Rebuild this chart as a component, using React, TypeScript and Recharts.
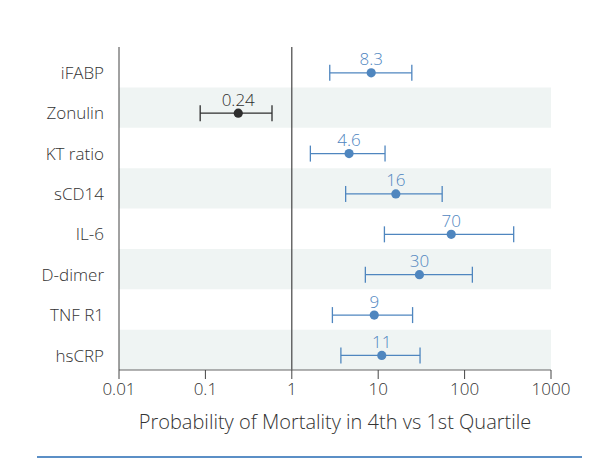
import React from 'react';
import {
  ScatterChart,
  Scatter,
  XAxis,
  YAxis,
  ErrorBar,
  LabelList,
  ReferenceArea,
  ReferenceLine,
} from 'recharts';

const categories = ['iFABP', 'Zonulin', 'KT ratio', 'sCD14', 'IL-6', 'D-dimer', 'TNF R1', 'hsCRP'];
const estimates = [8.3, 0.24, 4.6, 16, 70, 30, 9, 11];
const lowerCI = [2.75, 0.087, 1.64, 4.2, 11.8, 7.1, 2.95, 3.7];
const upperCI = [24.5, 0.59, 12, 55, 370, 123, 25, 30.5];
const darkRows = ['Zonulin'];
const xTicks = [0.01, 0.1, 1, 10, 100, 1000];
const bandRows = [1, 3, 5, 7];

const BLUE = '#4f86bf';
const DARK = '#2e2e2e';
const BAND = '#eff4f3';
const TEXT = '#333333';
const FONT = '"Open Sans", "Noto Sans", sans-serif';
const WEIGHT = 350;
const ROW_OFFSET = 0.64;

const rows = categories.map((name, i) => ({
  name,
  pos: i + ROW_OFFSET,
  value: estimates[i],
  err: [estimates[i] - lowerCI[i], upperCI[i] - estimates[i]],
}));
const blueData = rows.filter((r) => !darkRows.includes(r.name));
const darkData = rows.filter((r) => darkRows.includes(r.name));
const yTicks = rows.map((r) => r.pos);

const dotShape = (color: string) => (props: any) => (
  <circle cx={props.cx} cy={props.cy} r={4.6} fill={color} />
);

export default function App() {
  return (
    <div style={{ position: 'absolute', left: 0, top: 0, width: 600, height: 466, background: '#fff' }}>
      <ScatterChart
        width={600}
        height={466}
        margin={{ top: 47, right: 49, bottom: 36, left: 0 }}
        style={{ fontFamily: FONT, fontWeight: WEIGHT }}
      >
        {bandRows.map((i) => (
          <ReferenceArea
            key={i}
            x1={0.01}
            x2={1000}
            y1={i}
            y2={i + 1}
            fill={BAND}
            fillOpacity={1}
            stroke="none"
            ifOverflow="visible"
          />
        ))}
        <XAxis
          type="number"
          dataKey="value"
          scale="log"
          domain={[0.01, 1000]}
          ticks={xTicks}
          allowDataOverflow
          height={60}
          tickSize={9}
          tickMargin={4}
          axisLine={{ stroke: '#666' }}
          tickLine={{ stroke: '#444' }}
          tick={{ fill: TEXT, fontSize: 17, fontWeight: WEIGHT }}
          tickFormatter={(v: number) => String(v)}
          label={{
            value: 'Probability of Mortality in 4th vs 1st Quartile',
            position: 'insideBottom',
            offset: 1,
            fill: TEXT,
            fontSize: 20,
            fontWeight: WEIGHT,
          }}
        />
        <YAxis
          type="number"
          dataKey="pos"
          domain={[0, 8]}
          reversed
          ticks={yTicks}
          width={119}
          tickLine={false}
          tickMargin={9}
          axisLine={{ stroke: '#444' }}
          tick={{ fill: TEXT, fontSize: 17, fontWeight: WEIGHT }}
          tickFormatter={(v: number) => {
            const r = rows.find((x) => Math.abs(x.pos - v) < 1e-6);
            return r ? r.name : '';
          }}
        />
        <ReferenceLine x={1} stroke="#444" strokeWidth={1.2} />
        <Scatter data={blueData} fill={BLUE} shape={dotShape(BLUE)} isAnimationActive={false}>
          <ErrorBar dataKey="err" direction="x" stroke={BLUE} strokeWidth={1.3} width={8} />
          <LabelList dataKey="value" position="top" offset={3} fill={BLUE} fontSize={17} fontWeight={WEIGHT} />
        </Scatter>
        <Scatter data={darkData} fill={DARK} shape={dotShape(DARK)} isAnimationActive={false}>
          <ErrorBar dataKey="err" direction="x" stroke={DARK} strokeWidth={1.3} width={8} />
          <LabelList dataKey="value" position="top" offset={3} fill={DARK} fontSize={17} fontWeight={WEIGHT} />
        </Scatter>
      </ScatterChart>
      <div
        style={{
          position: 'absolute',
          left: 37,
          top: 456,
          width: 545,
          height: 2,
          background: '#5b8fc6',
        }}
      />
    </div>
  );
}
